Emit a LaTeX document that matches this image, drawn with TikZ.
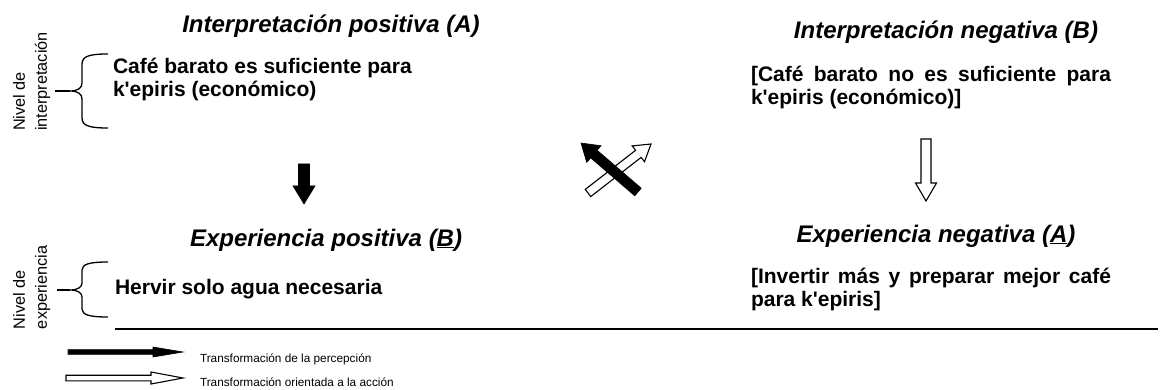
\documentclass[tikz,border=0pt]{standalone}
\usepackage{fontspec}
\setmainfont{Liberation Sans}[Ligatures=TeXOff]
\usetikzlibrary{calc}

% Block arrow drawn as a polygon from tail #2 to tip #3:
% #1 style, #4 shaft half-width, #5 head half-width, #6 head length
\newcommand{\fatarrow}[6]{%
  \coordinate (fa-base) at ($(#3)!#6!(#2)$);
  \draw[#1] ($(#2)!#4!90:(#3)$) -- ($(fa-base)!#4!90:(#3)$)
    -- ($(fa-base)!#5!90:(#3)$) -- (#3) -- ($(fa-base)!#5!-90:(#3)$)
    -- ($(fa-base)!#4!-90:(#3)$) -- ($(#2)!#4!-90:(#3)$) -- cycle;}
% Paragraph whose reference point is the baseline of its first line
\newcommand{\toppar}[2]{\parbox[t]{#1}{#2}}

\begin{document}
\begin{tikzpicture}[x=1pt,y=-1pt,
  every node/.style={inner sep=0pt, outer sep=0pt},
  title/.style={anchor=base, font=\fontsize{24}{28}\selectfont\bfseries\itshape},
  body/.style={anchor=base west, font=\fontsize{21}{23}\selectfont\bfseries},
  side/.style={rotate=90, anchor=north west, font=\fontsize{16.3}{22}\selectfont},
  legend/.style={anchor=base west, font=\fontsize{11.8}{14}\selectfont},
  brace/.style={line width=1.3pt},
  solidarrow/.style={fill=black, draw=black, line width=0.6pt},
  hollowarrow/.style={fill=white, draw=black, line width=1.1pt, line join=miter}]
\useasboundingbox (0,0) rectangle (1161,390);

% level labels
\node[side] (lvInt) at (9.5,131) {\begin{tabular}{@{}l@{}}Nivel de\\interpretación\end{tabular}};
\node[side] (lvExp) at (9.5,329) {\begin{tabular}{@{}l@{}}Nivel de\\experiencia\end{tabular}};

% braces
\draw[brace] (108,54) .. controls (90,54) and (82,56) .. (82,64) -- (82,83)
  .. controls (82,88) and (78,91) .. (70,91)
  .. controls (78,91) and (82,94) .. (82,99) -- (82,118)
  .. controls (82,126) and (90,128) .. (108,128);
\draw[brace] (55,91) -- (70,91);
\draw[brace] (108,262) .. controls (90,262) and (82,264) .. (82,270) -- (82,283)
  .. controls (82,287) and (78,290) .. (70,290)
  .. controls (78,290) and (82,293) .. (82,297) -- (82,309)
  .. controls (82,315) and (90,317) .. (108,317);
\draw[brace] (57,290) -- (70,290);

% headings and statements
\node[title] (intA) at (331,33) {Interpretación positiva (A)};
\node[title] (intB) at (946,39) {Interpretación negativa (B)};
\node[body] (txtIntA) at (113,74) {\toppar{400pt}{\raggedright Café barato es suficiente para\\k'epiris (económico)}};
\node[body] (txtIntB) at (751,82) {\toppar{360pt}{[Café barato no es suficiente para\linebreak k'epiris (económico)]}};
\node[title, anchor=base west] (expA) at (190,246) {Experiencia positiva (\underline{B})};
\node[title] (expB) at (936,242) {Experiencia negativa (\underline{A})};
\node[body] (txtExpA) at (115,294) {Hervir solo agua necesaria};
\node[body] (txtExpB) at (751,283) {\toppar{360pt}{[Invertir más y preparar mejor café\linebreak para k'epiris]}};

% baseline rule
\coordinate (ruleL) at (115,329);
\coordinate (ruleR) at (1158,329);
\draw[line width=2pt] (ruleL) -- (ruleR);

% transformation arrows
\coordinate (posFrom) at (304,164);
\coordinate (posTo) at (304,204);
\fatarrow{solidarrow}{posFrom}{posTo}{5.5pt}{11pt}{18pt}
\coordinate (negFrom) at (926,139);
\coordinate (negTo) at (926,201);
\fatarrow{hollowarrow}{negFrom}{negTo}{5pt}{10.5pt}{18pt}
\coordinate (crossWFrom) at (588,193);
\coordinate (crossWTo) at (651,144);
\fatarrow{hollowarrow}{crossWFrom}{crossWTo}{4.5pt}{10pt}{16pt}
\coordinate (crossBFrom) at (638,192);
\coordinate (crossBTo) at (581,143);
\fatarrow{solidarrow}{crossBFrom}{crossBTo}{5pt}{11pt}{17pt}

% legend
\coordinate (legBFrom) at (68,352);
\coordinate (legBTo) at (183,352);
\fatarrow{solidarrow}{legBFrom}{legBTo}{2.4pt}{5pt}{30pt}
\coordinate (legWFrom) at (66,378);
\coordinate (legWTo) at (183,378);
\fatarrow{hollowarrow}{legWFrom}{legWTo}{2.8pt}{6pt}{32pt}
\node[legend] (legB) at (200,362) {Transformación de la percepción};
\node[legend] (legW) at (200,386) {Transformación orientada a la acción};
\end{tikzpicture}
\end{document}
